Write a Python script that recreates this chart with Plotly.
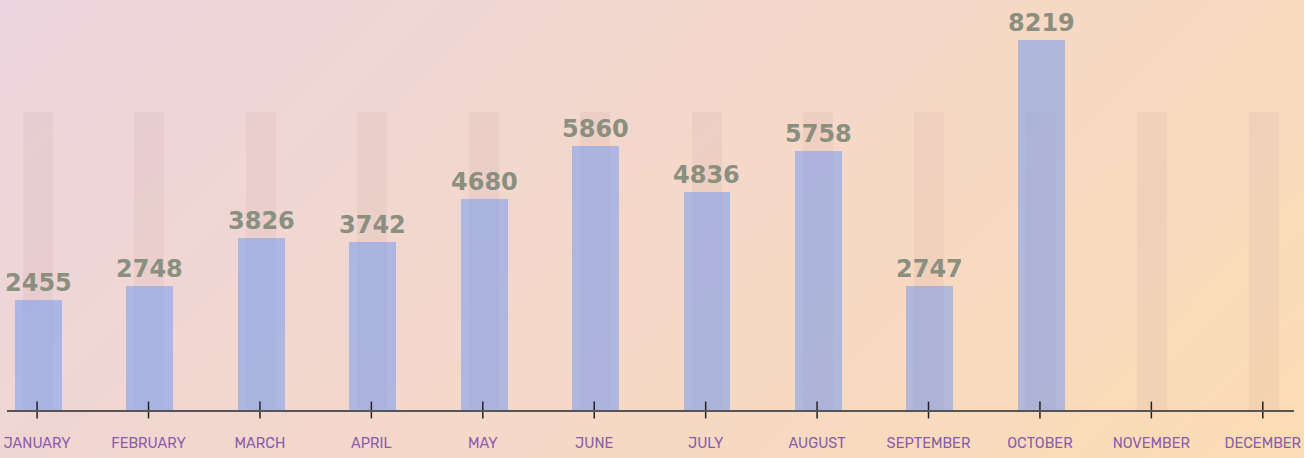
import base64, struct, zlib
import plotly.graph_objects as go

months = ["JANUARY", "FEBRUARY", "MARCH", "APRIL", "MAY", "JUNE", "JULY",
          "AUGUST", "SEPTEMBER", "OCTOBER", "NOVEMBER", "DECEMBER"]
values = [2455, 2748, 3826, 3742, 4680, 5860, 4836, 5758, 2747, 8219, None, None]
track = [6620] * 12

W, H = 1304, 458


def gradient_png(w, h, c0, c1):
    rows = []
    for y in range(h):
        row = bytearray([0])
        for x in range(w):
            t = (x * (W / w) + y * (H / h)) / (W + H)
            for k in range(3):
                row.append(int(round(c0[k] + (c1[k] - c0[k]) * t)))
        rows.append(bytes(row))
    raw = b"".join(rows)

    def chunk(tag, data):
        c = struct.pack(">I", len(data)) + tag + data
        return c + struct.pack(">I", zlib.crc32(tag + data) & 0xffffffff)

    png = b"\x89PNG\r\n\x1a\n"
    png += chunk(b"IHDR", struct.pack(">IIBBBBB", w, h, 8, 2, 0, 0, 0))
    png += chunk(b"IDAT", zlib.compress(raw, 9))
    png += chunk(b"IEND", b"")
    return "data:image/png;base64," + base64.b64encode(png).decode()


bg = gradient_png(326, 115, (236, 212, 222), (252, 220, 180))

xs = list(range(12))

fig = go.Figure()
fig.add_trace(go.Bar(
    x=xs, y=track, width=0.27, offset=-0.127,
    marker=dict(color="rgba(190,150,150,0.12)", line=dict(width=0)),
    hoverinfo="skip", showlegend=False,
))
fig.add_trace(go.Bar(
    x=xs, y=values, width=0.42, offset=-0.198,
    marker=dict(color="rgba(105,150,245,0.5)", line=dict(width=0)),
    showlegend=False,
))
fig.add_trace(go.Scatter(
    x=xs, y=[0] * 12, mode="markers", cliponaxis=False,
    marker=dict(symbol="line-ns", size=12, line=dict(width=1.5, color="#222")),
    hoverinfo="skip", showlegend=False,
))

annotations = []
for i, v in enumerate(values):
    if v is None:
        continue
    annotations.append(dict(
        x=i + 0.012, y=v, xref="x", yref="y", text=str(v), showarrow=False,
        yanchor="bottom", xanchor="center", yshift=1,
        font=dict(family="DejaVu Sans", size=24, color="#8a8f7f", weight="bold"),
    ))

fig.update_layout(
    width=W, height=H,
    margin=dict(l=0, r=0, t=0, b=0, autoexpand=False),
    paper_bgcolor="#f5d8c8",
    plot_bgcolor="rgba(0,0,0,0)",
    barmode="overlay",
    bargap=0,
    annotations=annotations,
    images=[dict(source=bg, xref="paper", yref="paper", x=0, y=1,
                 sizex=1, sizey=1, sizing="stretch", layer="below",
                 xanchor="left", yanchor="top")],
    xaxis=dict(
        domain=[7 / W, 1294 / W], range=[-0.27, 11.28],
        tickmode="array", tickvals=xs, ticktext=months,
        showgrid=False, zeroline=False, ticks="", automargin=False,
        showline=True, linecolor="#555", linewidth=2,
        tickfont=dict(family="Rubik, Noto Sans, sans-serif", size=14.5, color="#8c5cab"),
        ticklabelstandoff=19,
    ),
    yaxis=dict(
        domain=[48 / H, 1 - 20 / H], range=[0, 8667], automargin=False,
        visible=False, showgrid=False, zeroline=False,
    ),
)

fig.write_html("out.html")
